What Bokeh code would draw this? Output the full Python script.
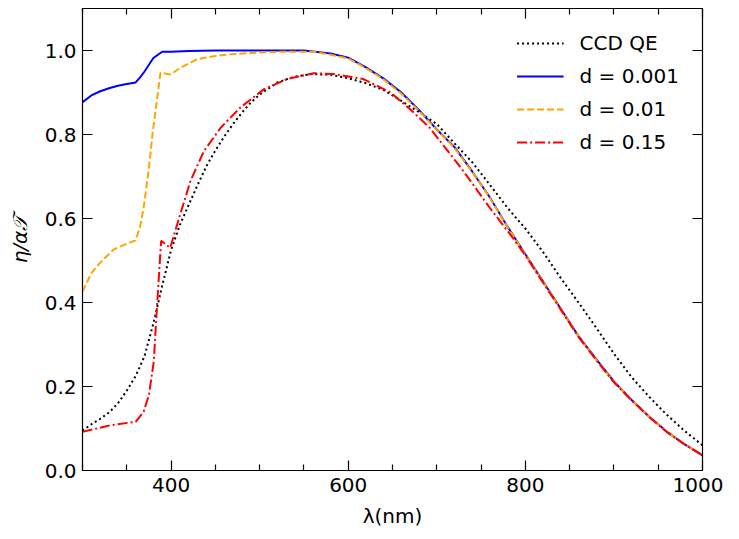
from bokeh.plotting import figure
from bokeh.models import (Range1d, LinearAxis, FixedTicker, PrintfTickFormatter, Legend,
                          LegendItem, CustomLabelingPolicy)
from bokeh.embed import file_html
from bokeh.resources import INLINE

# ---- data ----
ccd_wl = [300, 310, 320, 330, 340, 350, 360, 370, 380, 390, 400, 410, 420, 430, 440, 450,
          460, 470, 480, 490, 500, 520, 540, 560, 580, 600, 620, 640, 660, 680, 700, 720,
          740, 760, 780, 800, 820, 840, 860, 880, 900, 920, 940, 960, 980, 1000]
ccd_qe = [0.095, 0.11, 0.123, 0.138, 0.16, 0.19, 0.225, 0.272, 0.35, 0.44, 0.525, 0.585,
          0.633, 0.68, 0.725, 0.762, 0.795, 0.825, 0.852, 0.876, 0.895, 0.924, 0.938, 0.944,
          0.942, 0.934, 0.922, 0.906, 0.88, 0.853, 0.825, 0.779, 0.734, 0.68, 0.625, 0.576,
          0.52, 0.458, 0.40, 0.34, 0.278, 0.222, 0.175, 0.132, 0.094, 0.06]

d001_wl = [300, 310, 320, 330, 340, 350, 360, 365, 370, 380, 390, 400, 420, 450, 500, 550,
           580, 600, 620, 640, 660, 680, 700, 720, 740, 760, 780, 800, 820, 840, 860, 880,
           900, 920, 940, 960, 980, 1000]
d001_eta = [0.877, 0.893, 0.903, 0.91, 0.916, 0.92, 0.924, 0.936, 0.95, 0.982, 0.997, 0.997,
            0.999, 1.0, 1.0, 1.0, 0.993, 0.983, 0.96, 0.933, 0.9, 0.858, 0.812, 0.77, 0.712,
            0.65, 0.58, 0.515, 0.45, 0.385, 0.32, 0.265, 0.212, 0.168, 0.128, 0.092, 0.062, 0.036]

d01_wl = [300, 310, 320, 335, 350, 360, 365, 369, 375, 379, 388, 399, 411, 429, 450, 467,
          500, 523, 561, 580, 600, 620, 640, 660, 680, 700, 720, 740, 760, 780, 800, 820,
          840, 860, 880, 900, 920, 940, 960, 980, 1000]
d01_eta = [0.426, 0.47, 0.495, 0.526, 0.54, 0.548, 0.58, 0.625, 0.72, 0.80, 0.947, 0.943,
           0.959, 0.979, 0.987, 0.991, 0.995, 0.997, 0.997, 0.99, 0.981, 0.958, 0.931, 0.897,
           0.856, 0.811, 0.768, 0.711, 0.649, 0.579, 0.514, 0.449, 0.384, 0.319, 0.264, 0.211,
           0.168, 0.128, 0.092, 0.062, 0.036]

d15_wl = [300, 332, 360, 369, 375, 380.5, 384, 388.8, 399, 409, 422, 437, 456, 478, 505,
          531, 561, 584, 617, 648, 670, 692, 730, 760, 785, 800, 820, 840, 860, 880, 900,
          920, 940, 960, 980, 1000]
d15_eta = [0.092, 0.108, 0.116, 0.14, 0.18, 0.26, 0.387, 0.547, 0.53, 0.601, 0.69, 0.76,
           0.816, 0.864, 0.908, 0.932, 0.946, 0.944, 0.932, 0.90, 0.86, 0.816, 0.713, 0.625,
           0.556, 0.512, 0.447, 0.383, 0.318, 0.263, 0.21, 0.167, 0.127, 0.091, 0.062, 0.036]

x_major = [400, 600, 800, 1000]
x_minor = [300, 350, 450, 500, 550, 650, 700, 750, 850, 900, 950]
y_major = [0.0, 0.2, 0.4, 0.6, 0.8, 1.0]

labels = ["CCD QE", "d = 0.001", "d = 0.01", "d = 0.15"]
FONT = "DejaVu Sans"

p = figure(width=723, height=531, output_backend="svg", toolbar_location=None,
           x_range=Range1d(300, 1000), y_range=Range1d(0, 1.1),
           min_border_left=82, min_border_top=8, min_border_right=21, min_border_bottom=61)
p.xgrid.visible = False
p.ygrid.visible = False
p.outline_line_color = "black"
p.outline_line_width = 1.2
p.background_fill_color = "white"
p.border_fill_color = "white"

r_ccd = p.line(ccd_wl, ccd_qe, line_color="black", line_width=2, line_dash="2 3")
r_1 = p.line(d001_wl, d001_eta, line_color="blue", line_width=2)
r_2 = p.line(d01_wl, d01_eta, line_color="orange", line_width=2, line_dash="7 3")
r_3 = p.line(d15_wl, d15_eta, line_color="red", line_width=2, line_dash="10 3 2 3")

xt = FixedTicker(ticks=x_major, minor_ticks=x_minor)
yt = FixedTicker(ticks=y_major, minor_ticks=[])

def style(ax, show):
    ax.major_tick_in = 10
    ax.major_tick_out = 0
    ax.minor_tick_in = 6
    ax.minor_tick_out = 0
    ax.axis_line_color = "black"
    ax.major_tick_line_color = "black"
    ax.minor_tick_line_color = "black"
    ax.major_tick_line_width = 1.2
    ax.minor_tick_line_width = 1.2
    if show:
        ax.major_label_text_font = FONT
        ax.major_label_text_font_size = "20px"
        ax.major_label_text_color = "black"
        ax.axis_label_text_font = FONT
        ax.axis_label_text_font_size = "20px"
        ax.axis_label_text_font_style = "normal"
        ax.axis_label_text_color = "black"
    else:
        ax.major_label_policy = CustomLabelingPolicy(code="return []")
        ax.major_label_text_font_size = "1px"
        ax.major_label_standoff = 0

xa = p.xaxis[0]
xa.ticker = xt
style(xa, True)
xa.major_label_standoff = 7
xa.axis_label = "λ(nm)"
xa.axis_label_standoff = 9

ya = p.yaxis[0]
ya.ticker = yt
ya.formatter = PrintfTickFormatter(format="%.1f")
style(ya, True)
ya.major_label_standoff = 6
ya.axis_label = "η/α𝒯"
ya.axis_label_text_font_style = "italic"
ya.axis_label_standoff = 10

top = LinearAxis(ticker=xt)
style(top, False)
p.add_layout(top, "above")
right = LinearAxis(ticker=yt)
style(right, False)
p.add_layout(right, "right")

legend = Legend(items=[LegendItem(label=labels[0], renderers=[r_ccd]),
                       LegendItem(label=labels[1], renderers=[r_1]),
                       LegendItem(label=labels[2], renderers=[r_2]),
                       LegendItem(label=labels[3], renderers=[r_3])],
                location="top_right")
legend.border_line_color = None
legend.background_fill_alpha = 0
legend.label_text_font = FONT
legend.label_text_font_size = "20px"
legend.label_text_color = "black"
legend.glyph_width = 47
legend.glyph_height = 24
legend.label_height = 24
legend.label_standoff = 16
legend.spacing = 9
legend.margin = 23
legend.padding = 10
p.add_layout(legend)

open("out.html", "w").write(file_html(p, INLINE))
